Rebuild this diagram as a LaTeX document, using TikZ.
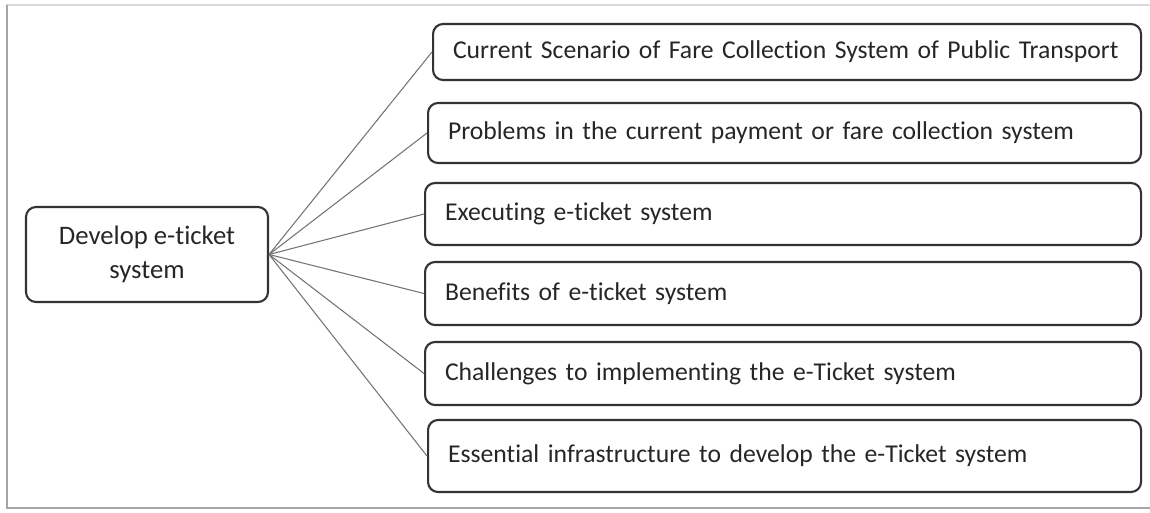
\documentclass[tikz,border=0pt]{standalone}
\usepackage{fontspec}
\setmainfont[Ligatures=NoCommon]{Carlito}
\tikzset{
  topic/.style={draw=black!80, line width=1.2pt, rounded corners=0.2cm, inner xsep=0.4cm,
    align=left, anchor=west, text=black!85, font=\fontsize{14.6}{17}\selectfont},
  root/.style={draw=black!80, line width=1.2pt, rounded corners=0.2cm, align=center,
    minimum width=4.84cm, minimum height=1.9cm, text=black!85, font=\fontsize{15.2}{19.5}\selectfont},
  spoke/.style={draw=black!55, line width=0.6pt}
}
\begin{document}
\begin{tikzpicture}
      \useasboundingbox (0,0) rectangle (23,10.24);
      % frame
      \draw[black!15, line width=0.8pt] (0.12,10.14) -- (23.2,10.14);
      \draw[black!35, line width=1.6pt] (0.14,10.14) -- (0.14,0.08) -- (23.2,0.08);
      \node [root] (D) at (2.94,5.15) {Develop e-ticket\\system};
      \node [topic, text width=13.36cm, minimum height=1.12cm] (C) at (8.64,9.2) {Current Scenario of Fare Collection System of Public Transport};
      \node [topic, text width=13.46cm, minimum height=1.2cm] (P) at (8.54,7.58) {Problems in the current payment or fare collection system};
      \node [topic, text width=13.52cm, minimum height=1.24cm] (E) at (8.48,5.96) {Executing e-ticket system};
      \node [topic, text width=13.52cm, minimum height=1.26cm] (B) at (8.48,4.37) {Benefits of e-ticket system};
      \node [topic, text width=13.52cm, minimum height=1.26cm] (H) at (8.48,2.77) {Challenges to implementing the e-Ticket system};
      \node [topic, text width=13.46cm, minimum height=1.44cm] (I) at (8.54,1.12) {Essential infrastructure to develop the e-Ticket system};
      \draw[spoke] (D.east) -- (C.west);
      \draw[spoke] (D.east) -- (P.west);
      \draw[spoke] (D.east) -- (E.west);
      \draw[spoke] (D.east) -- (B.west);
      \draw[spoke] (D.east) -- (H.west);
      \draw[spoke] (D.east) -- (I.west);
    \end{tikzpicture}
\end{document}
